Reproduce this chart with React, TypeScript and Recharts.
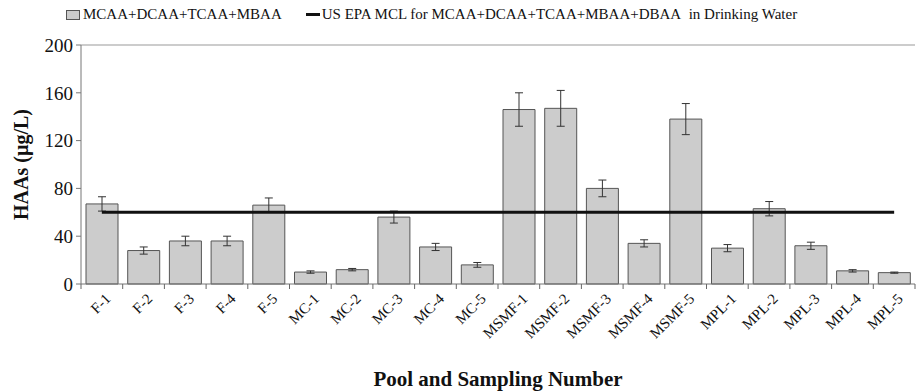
import React from 'react';
import { ComposedChart, Bar, Line, XAxis, YAxis, ErrorBar, ReferenceLine } from 'recharts';

const samples = [
  'F-1', 'F-2', 'F-3', 'F-4', 'F-5',
  'MC-1', 'MC-2', 'MC-3', 'MC-4', 'MC-5',
  'MSMF-1', 'MSMF-2', 'MSMF-3', 'MSMF-4', 'MSMF-5',
  'MPL-1', 'MPL-2', 'MPL-3', 'MPL-4', 'MPL-5',
];
const haaValues = [67, 28, 36, 36, 66, 10, 12, 56, 31, 16, 146, 147, 80, 34, 138, 30, 63, 32, 11, 9.5];
const haaErrors = [6, 3, 4, 4, 6, 1, 1, 5, 3, 2, 14, 15, 7, 3, 13, 3, 6, 3, 1, 0.5];
const mclValues = [60, 60, 60, 60, 60, 60, 60, 60, 60, 60, 60, 60, 60, 60, 60, 60, 60, 60, 60, 60];
const yTicks = [0, 40, 80, 120, 160, 200];

const data = samples.map((name, i) => ({
  name,
  haa: haaValues[i],
  err: haaErrors[i],
  mcl: mclValues[i],
}));

const W = 917;
const H = 392;
const LEFT = 81;
const RIGHT = 2;
const serif = 'Liberation Serif';

// category width, used to put x tick marks between the bars like Excel does
const step = (W - LEFT - RIGHT) / samples.length;

function XTick(props: any) {
  const x = Number(props.x);
  const y = Number(props.y);
  const { payload, index } = props;
  const tx = x + 6;
  const ty = y + 12;
  return (
    <g>
      <line x1={x - step / 2} y1={y} x2={x - step / 2} y2={y + 5} stroke="#666" />
      {index === samples.length - 1 && (
        <line x1={x + step / 2} y1={y} x2={x + step / 2} y2={y + 5} stroke="#666" />
      )}
      <text
        x={tx}
        y={ty}
        dy="0.35em"
        transform={`rotate(-45 ${tx} ${ty})`}
        textAnchor="end"
        fontFamily={serif}
        fontSize={15}
        fill="#111"
      >
        {payload.value}
      </text>
    </g>
  );
}

function YLabel(props: any) {
  const { viewBox } = props;
  const cx = 21;
  const cy = viewBox.y + viewBox.height / 2;
  return (
    <g transform={`translate(${cx},${cy}) rotate(-90)`}>
      <text x={0} y={0} dy="0.35em" textAnchor="middle" fontFamily={serif} fontWeight="bold" fontSize={20} fill="#111">
        HAAs (µg/L)
      </text>
    </g>
  );
}

export default function App() {
  return (
    <div style={{ position: 'absolute', left: 0, top: 0, width: W, height: H, background: '#fff' }}>
      <div
        style={{
          position: 'absolute',
          left: 66,
          top: 6,
          display: 'flex',
          alignItems: 'center',
          fontFamily: serif,
          fontSize: 15,
          color: '#111',
          whiteSpace: 'nowrap',
        }}
      >
        <span style={{ display: 'inline-block', width: 12, height: 8, background: '#ccc', border: '1px solid #555', marginRight: 3 }} />
        <span>MCAA+DCAA+TCAA+MBAA</span>
        <span style={{ display: 'inline-block', width: 14, height: 3, background: '#111', marginLeft: 24, marginRight: 2 }} />
        <span>US EPA MCL for MCAA+DCAA+TCAA+MBAA+DBAA&nbsp; in Drinking Water</span>
      </div>
      <ComposedChart
        width={W}
        height={H}
        data={data}
        margin={{ top: 45, right: RIGHT, bottom: 0, left: 0 }}
        barCategoryGap="12%"
      >
        <XAxis
          dataKey="name"
          interval={0}
          tickLine={false}
          tickSize={0}
          tickMargin={0}
          axisLine={{ stroke: '#777' }}
          tick={(p: any) => <XTick {...p} />}
          height={108}
          label={{
            value: 'Pool and Sampling Number',
            position: 'insideBottom',
            offset: 6,
            fontFamily: serif,
            fontWeight: 'bold',
            fontSize: 21,
            fill: '#111',
          }}
        />
        <YAxis
          width={LEFT}
          domain={[0, 200]}
          ticks={yTicks}
          interval={0}
          tickSize={5}
          tickMargin={3}
          axisLine={{ stroke: '#777' }}
          tickLine={{ stroke: '#777' }}
          tick={{ fontFamily: serif, fontSize: 19, fill: '#111' }}
          label={(p: any) => <YLabel {...p} />}
        />
        <ReferenceLine y={200} stroke="#999" />
        <Bar dataKey="haa" fill="#cccccc" stroke="#555" strokeWidth={1} isAnimationActive={false}>
          <ErrorBar dataKey="err" width={4} stroke="#333" strokeWidth={1} isAnimationActive={false} />
        </Bar>
        <Line dataKey="mcl" type="linear" stroke="#111" strokeWidth={3} dot={false} isAnimationActive={false} />
      </ComposedChart>
    </div>
  );
}
